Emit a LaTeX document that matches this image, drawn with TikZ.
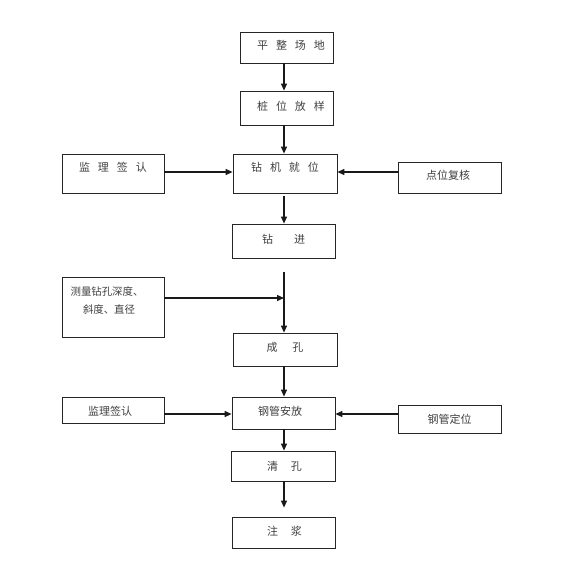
\documentclass[tikz,border=0pt]{standalone}
\usepackage{fontspec}
\newfontfamily\cjk{Noto Sans CJK SC}
\usetikzlibrary{arrows.meta}
\begin{document}
\begin{tikzpicture}[x=1pt,y=-1pt,
  box/.style={draw=black!85,line width=0.8pt,rectangle,inner sep=0pt},
  lbl/.style={font=\cjk\fontsize{11}{13}\selectfont,text=black!75,inner sep=0pt},
  arr/.style={draw=black!90,line width=1.2pt,-{Triangle[length=7pt,width=6pt]}}]
\useasboundingbox (0,0) rectangle (562,586);
\fill[white] (0,0) rectangle (562,586);
% boxes
\node[box,minimum width=93pt,minimum height=31pt] (b1) at (286.5,47.5) {};
\node[box,minimum width=93pt,minimum height=34pt] (b2) at (286.5,108) {};
\node[box,minimum width=104pt,minimum height=39pt] (b3) at (285,173.5) {};
\node[box,minimum width=102pt,minimum height=39pt] (m1) at (113,173.5) {};
\node[box,minimum width=103pt,minimum height=31pt] (p1) at (449.5,177.5) {};
\node[box,minimum width=103pt,minimum height=34pt] (b4) at (283.5,241) {};
\node[box,minimum width=102pt,minimum height=60pt] (c1) at (113,307) {};
\node[box,minimum width=104pt,minimum height=33pt] (b5) at (285,349.5) {};
\node[box,minimum width=103pt,minimum height=32pt] (b6) at (283.5,413) {};
\node[box,minimum width=102pt,minimum height=26pt] (m2) at (113,410) {};
\node[box,minimum width=103pt,minimum height=28pt] (p2) at (449.5,419) {};
\node[box,minimum width=104pt,minimum height=30pt] (b7) at (283,466) {};
\node[box,minimum width=103pt,minimum height=31pt] (b8) at (283.5,532.5) {};
% labels
\node[lbl] (t1) at (291,45) {平\hspace{8pt}整\hspace{8pt}场\hspace{8pt}地};
\node[lbl] (t2) at (291,106) {桩\hspace{8pt}位\hspace{8pt}放\hspace{8pt}样};
\node[lbl] (t3) at (285,167) {钻\hspace{8pt}机\hspace{8pt}就\hspace{8pt}位};
\node[lbl] (tm1) at (113,167) {监\hspace{8pt}理\hspace{8pt}签\hspace{8pt}认};
\node[lbl] (tp1) at (448,175) {点位复核};
\node[lbl] (t4) at (283.5,239) {钻\hspace{21pt}进};
\node[lbl,font=\cjk\fontsize{10.4}{12}\selectfont] (tc1) at (107,292) {测量钻孔深度、};
\node[lbl,font=\cjk\fontsize{10.4}{12}\selectfont] (tc2) at (109,310) {斜度、直径};
\node[lbl] (t5) at (285,347) {成\hspace{15pt}孔};
\node[lbl] (t6) at (280,411) {钢管安放};
\node[lbl] (tm2) at (110,411) {监理签认};
\node[lbl] (tp2) at (449.5,419) {钢管定位};
\node[lbl] (t7) at (284.5,466) {清\hspace{13pt}孔};
\node[lbl] (t8) at (284.5,531) {注\hspace{13pt}浆};
% helper coordinates
\coordinate (ax) at (284,0);
\coordinate (h1) at (0,172);
\coordinate (h2) at (0,414);
\coordinate (j1) at (284,272);
\coordinate (j2) at (284,298);
% vertical arrows
\draw[arr] (b1.south -| ax) -- (b2.north -| ax);
\draw[arr] (b2.south -| ax) -- (b3.north -| ax);
\draw[arr,shorten <=3pt] (b3.south -| ax) -- (b4.north -| ax);
\draw[arr] (j1) -- (b5.north -| ax);
\draw[arr] (b5.south -| ax) -- (b6.north -| ax);
\draw[arr] (b6.south -| ax) -- (b7.north -| ax);
\draw[arr,shorten >=9pt] (b7.south -| ax) -- (b8.north -| ax);
% horizontal arrows
\draw[arr] (m1.east |- h1) -- (b3.west |- h1);
\draw[arr] (p1.west |- h1) -- (b3.east |- h1);
\draw[arr] (c1.east |- j2) -- (j2);
\draw[arr] (m2.east |- h2) -- (b6.west |- h2);
\draw[arr] (p2.west |- h2) -- (b6.east |- h2);
\end{tikzpicture}
\end{document}
